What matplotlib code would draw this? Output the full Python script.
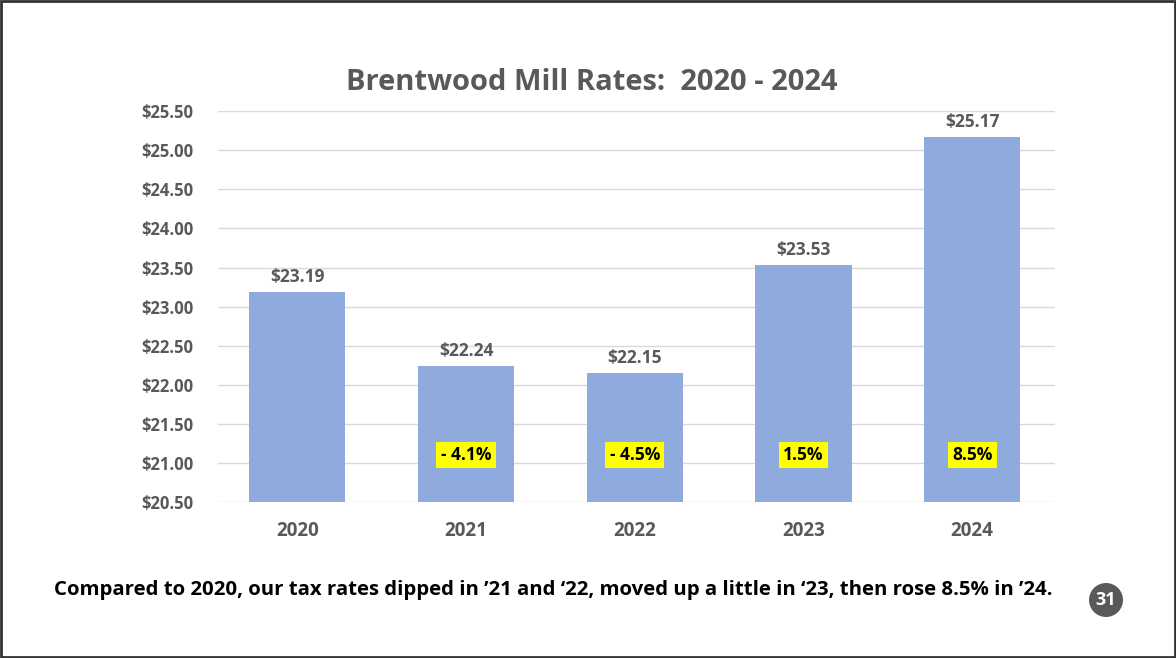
import matplotlib
matplotlib.use("Agg")
import matplotlib.pyplot as plt
from matplotlib.patches import Rectangle, Ellipse
from matplotlib.ticker import FuncFormatter

plt.rcParams['font.family'] = ['Open Sans', 'DejaVu Sans']

years = ['2020', '2021', '2022', '2023', '2024']
rates = [23.19, 22.24, 22.15, 23.53, 25.17]
changes = ['', '- 4.1%', '- 4.5%', '1.5%', '8.5%']
yticks = [20.5, 21.0, 21.5, 22.0, 22.5, 23.0, 23.5, 24.0, 24.5, 25.0, 25.5]

gray = '#595959'
bar_col = '#8faadc'

fig = plt.figure(figsize=(11.76, 6.58), dpi=100)
ax = fig.add_axes([0.1854, 0.237, 0.7116, 0.594])

x = range(len(years))
ax.bar(x, rates, width=0.57, color=bar_col, zorder=2)
ax.set_ylim(20.5, 25.5)
ax.set_xlim(-0.47, 4.49)
ax.set_yticks(yticks)
ax.yaxis.set_major_formatter(FuncFormatter(lambda v, p: f'${v:.2f}'))
ax.set_xticks(list(x))
ax.set_xticklabels(years)
ax.grid(axis='y', color='#d9d9d9', linewidth=1, zorder=0)
for s in ax.spines.values():
    s.set_visible(False)
ax.tick_params(length=0, colors=gray, labelsize=12)
ax.tick_params(axis='x', pad=14, labelsize=13.5)
ax.tick_params(axis='y', pad=18)
for lbl in ax.get_xticklabels() + ax.get_yticklabels():
    lbl.set_fontweight('bold')

for i, v in enumerate(rates):
    ax.text(i, v + 0.08, f'${v:.2f}', ha='center', va='bottom',
            fontsize=12.5, fontweight='bold', color=gray)
    if changes[i]:
        ax.text(i, 21.1, changes[i], ha='center', va='center', fontsize=12.5,
                fontweight='bold', color='black',
                bbox=dict(boxstyle='square,pad=0.25', facecolor='#ffff00',
                          edgecolor='none'))

fig.text(0.503, 0.875, 'Brentwood Mill Rates:  2020 - 2024', ha='center',
         va='center', fontsize=21, fontweight='bold', color=gray)
fig.text(0.046, 0.103,
         'Compared to 2020, our tax rates dipped in \u201921 and \u201822, moved up a little in \u201823, then rose 8.5% in \u201924.',
         ha='left', va='center', fontsize=14.7, fontweight='bold', color='black')

cx, cy = 1106 / 1176, 1 - 600 / 658
fig.patches.append(Ellipse((cx, cy), 34 / 1176, 34 / 658,
                           transform=fig.transFigure, facecolor=gray,
                           edgecolor='none'))
fig.text(cx, cy, '31', ha='center', va='center',
         fontsize=13, fontweight='bold', color='white')

fig.patches.append(Rectangle((0.001, 0.002), 0.998, 0.996,
                             transform=fig.transFigure, fill=False,
                             edgecolor='#333333', linewidth=2))

fig.savefig('out.png', dpi=100)
